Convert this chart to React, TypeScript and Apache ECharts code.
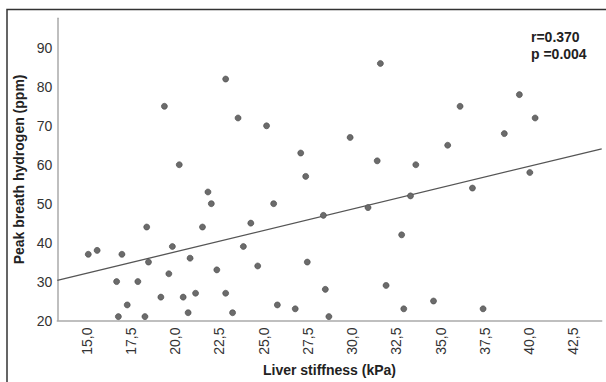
import React, { useEffect, useRef } from "react";
import * as echarts from "echarts";

const stiffness = [
  15.1, 15.6, 16.7, 16.8, 17.0, 17.3, 17.9, 18.3, 18.4, 18.5,
  19.2, 19.4, 19.65, 19.85, 20.24, 20.46, 20.74, 20.85, 21.16, 21.55,
  21.86, 22.05, 22.36, 22.86, 22.86, 23.25, 23.56, 23.86, 24.28, 24.67,
  25.17, 25.57, 25.78, 26.79, 27.1, 27.38, 27.47, 28.38, 28.49, 28.69,
  29.89, 30.9, 31.42, 31.6, 31.92, 32.8, 32.92, 33.3, 33.6, 34.6,
  35.4, 36.1, 36.8, 37.4, 38.6, 39.45, 40.04, 40.34,
];
const hydrogen = [
  37, 38, 30, 21, 37, 24, 30, 21, 44, 35,
  26, 75, 32, 39, 60, 26, 22, 36, 27, 44,
  53, 50, 33, 82, 27, 22, 72, 39, 45, 34,
  70, 50, 24, 23, 63, 57, 35, 47, 28, 21,
  67, 49, 61, 86, 29, 42, 23, 52, 60, 25,
  65, 75, 54, 23, 68, 78, 58, 72,
];
const fitX = [13.35, 44.1];
const fitY = [30.3, 64.1];
const xTicks = [15, 17.5, 20, 22.5, 25, 27.5, 30, 32.5, 35, 37.5, 40, 42.5];
const yTicks = [20, 30, 40, 50, 60, 70, 80, 90];
const stats = ["r=0.370", "p =0.004"];

const FONT = "'Liberation Sans', Arial, sans-serif";

export default function App() {
  const ref = useRef<HTMLDivElement>(null);
  useEffect(() => {
    document.body.style.margin = "0";
    const chart = echarts.init(ref.current!, null, { renderer: "svg" });
    chart.setOption({
      animation: false,
      backgroundColor: "#ffffff",
      textStyle: { fontFamily: FONT },
      grid: { left: 57.3, top: 18.3, right: 4.3, bottom: 61.5, containLabel: false },
      xAxis: {
        type: "value",
        min: 13.35,
        max: 44.1,
        name: "Liver stiffness (kPa)",
        nameLocation: "middle",
        nameGap: 42,
        nameTextStyle: { fontFamily: FONT, fontSize: 14, fontWeight: "bold", color: "#222" },
        axisLine: { show: true, lineStyle: { color: "#aaaaaa", width: 1.5 } },
        axisTick: { show: false },
        splitLine: { show: false },
        axisLabel: {
          customValues: xTicks,
          rotate: 90,
          margin: 7,
          fontSize: 14,
          color: "#333",
          fontFamily: FONT,
          formatter: (v: number) => v.toFixed(1).replace(".", ","),
        },
      },
      yAxis: {
        type: "value",
        min: 20,
        max: 97.6,
        name: "Peak breath hydrogen (ppm)",
        nameLocation: "middle",
        nameGap: 30,
        nameTextStyle: { fontFamily: FONT, fontSize: 14, fontWeight: "bold", color: "#222" },
        axisLine: { show: true, lineStyle: { color: "#aaaaaa", width: 1.5 } },
        axisTick: { show: false },
        splitLine: { show: false },
        axisLabel: {
          customValues: yTicks,
          margin: 5,
          fontSize: 14,
          color: "#333",
          fontFamily: FONT,
        },
      },
      series: [
        {
          type: "line",
          data: fitX.map((x, i) => [x, fitY[i]]),
          symbol: "none",
          lineStyle: { color: "#555555", width: 1.3 },
          z: 1,
        },
        {
          type: "scatter",
          data: stiffness.map((x, i) => [x, hydrogen[i]]),
          symbolSize: 6,
          itemStyle: { color: "#6b6b6b", borderColor: "#444", borderWidth: 0.6, opacity: 1 },
          z: 2,
        },
      ],
      graphic: [
        {
          type: "rect",
          shape: { x: 7, y: 9.5, width: 700, height: 500 },
          style: { fill: "none", stroke: "#333", lineWidth: 1.5 },
          silent: true,
        },
        {
          type: "text",
          left: 531,
          top: 28,
          style: {
            text: stats.join("\n"),
            fontFamily: FONT,
            fontSize: 14,
            fontWeight: "bold",
            lineHeight: 17.6,
            fill: "#222",
          },
        },
      ],
    });
    return () => chart.dispose();
  }, []);
  return <div ref={ref} style={{ width: 606, height: 382 }} />;
}
